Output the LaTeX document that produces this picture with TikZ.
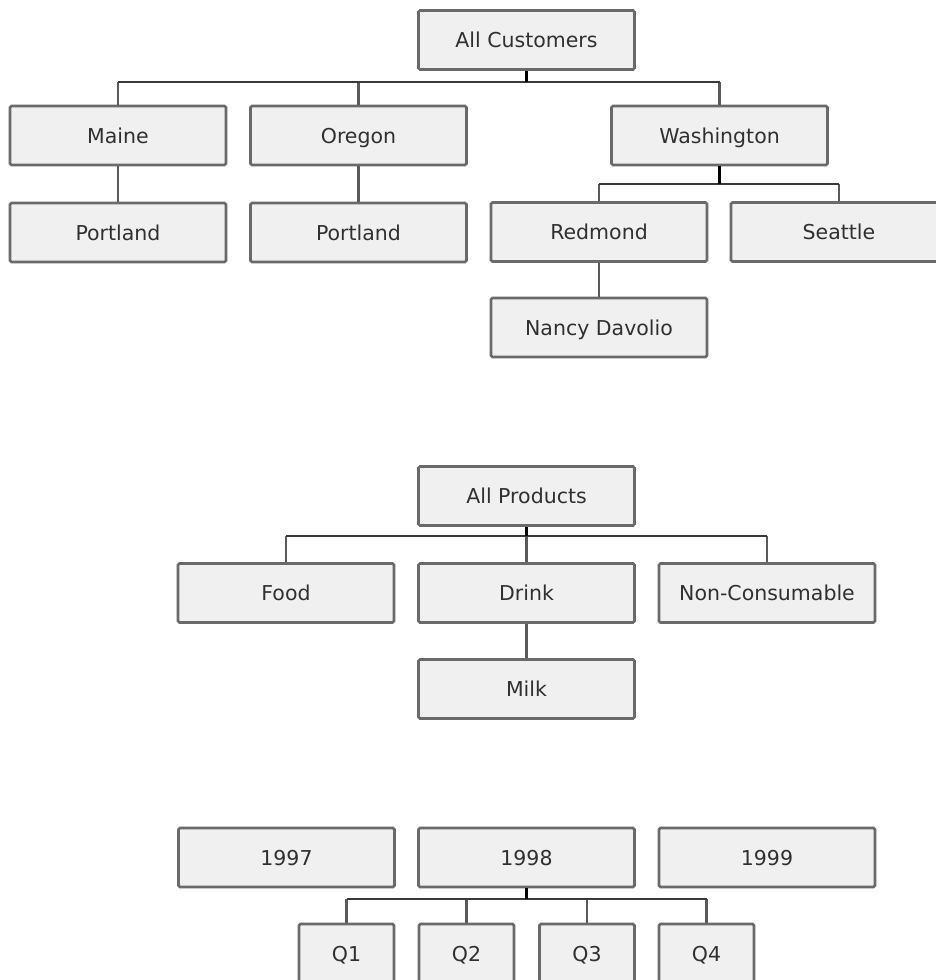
\documentclass[tikz,border=0pt]{standalone}
\usepackage{fontspec}
\setmainfont{DejaVu Sans}
\definecolor{boxfill}{HTML}{F0F0F0}
\definecolor{boxline}{HTML}{6A6A6A}
\definecolor{txt}{HTML}{303030}
\definecolor{stemc}{HTML}{5A5A5A}
\definecolor{barc}{HTML}{3A3A3A}
\tikzset{
  mbox/.style={draw=boxline, fill=boxfill, line width=2.6pt, rounded corners=1.5pt,
    minimum width=216pt, minimum height=59pt, inner sep=0pt, text=txt,
    font=\fontsize{20.5}{24}\selectfont, text height=15pt, text depth=0pt, anchor=center},
  qbox/.style={mbox, minimum width=95pt},
  conn/.style={draw=stemc, line width=2.4pt},
  bar/.style={draw=barc, line width=2.4pt},
  pstem/.style={draw=black, line width=3pt},
}
\begin{document}
\begin{tikzpicture}[x=1pt,y=-1pt]
\useasboundingbox (0,0) rectangle (936,980);
\clip (0,0) rectangle (936,980);
\fill[white] (0,0) rectangle (936,980);

% Customers
\node[mbox] (ac) at (526.5,40) {All Customers};
\node[mbox] (maine) at (118,135.5) {Maine};
\node[mbox] (oregon) at (358.5,135.5) {Oregon};
\node[mbox] (wash) at (719.5,135.5) {Washington};
\node[mbox] (port1) at (118,232.5) {Portland};
\node[mbox] (port2) at (358.5,232.5) {Portland};
\node[mbox] (red) at (599,232) {Redmond};
\node[mbox] (sea) at (839,232) {Seattle};
\node[mbox] (nancy) at (599,327.5) {Nancy Davolio};
\coordinate (cb) at (526.5,82);
\coordinate (wb) at (719.5,184);

\draw[conn] (maine.north) -- (maine.north |- cb);
\draw[conn] (oregon.north) -- (oregon.north |- cb);
\draw[conn] (wash.north) -- (wash.north |- cb);
\draw[bar] (maine.north |- cb) -- (wash.north |- cb);
\draw[pstem] (ac.south) -- (cb);
\draw[conn] (maine.south) -- (port1.north);
\draw[conn] (oregon.south) -- (port2.north);
\draw[conn] (red.north) -- (red.north |- wb);
\draw[conn] (sea.north) -- (sea.north |- wb);
\draw[bar] (red.north |- wb) -- (sea.north |- wb);
\draw[pstem] (wash.south) -- (wb);
\draw[conn] (red.south) -- (nancy.north);

% Products
\node[mbox] (ap) at (526.5,496) {All Products};
\node[mbox] (food) at (286,593) {Food};
\node[mbox] (drink) at (526.5,593) {Drink};
\node[mbox] (nonc) at (767,593) {Non-Consumable};
\node[mbox] (milk) at (526.5,689) {Milk};
\coordinate (pb) at (526.5,536);
\draw[conn] (food.north) -- (food.north |- pb);
\draw[conn] (drink.north) -- (pb);
\draw[conn] (nonc.north) -- (nonc.north |- pb);
\draw[bar] (food.north |- pb) -- (nonc.north |- pb);
\draw[pstem] (ap.south) -- (pb);
\draw[conn] (drink.south) -- (milk.north);

% Years
\node[mbox] (y97) at (286.5,857.5) {1997};
\node[mbox] (y98) at (526.5,857.5) {1998};
\node[mbox] (y99) at (767,857.5) {1999};
\node[qbox] (q1) at (346.5,953.5) {Q1};
\node[qbox] (q2) at (466.5,953.5) {Q2};
\node[qbox] (q3) at (587,953.5) {Q3};
\node[qbox] (q4) at (706.5,953.5) {Q4};
\coordinate (yb) at (526.5,899);
\draw[conn] (q1.north) -- (q1.north |- yb);
\draw[conn] (q2.north) -- (q2.north |- yb);
\draw[conn] (q3.north) -- (q3.north |- yb);
\draw[conn] (q4.north) -- (q4.north |- yb);
\draw[bar] (q1.north |- yb) -- (q4.north |- yb);
\draw[pstem] (y98.south) -- (yb);
\end{tikzpicture}
\end{document}
